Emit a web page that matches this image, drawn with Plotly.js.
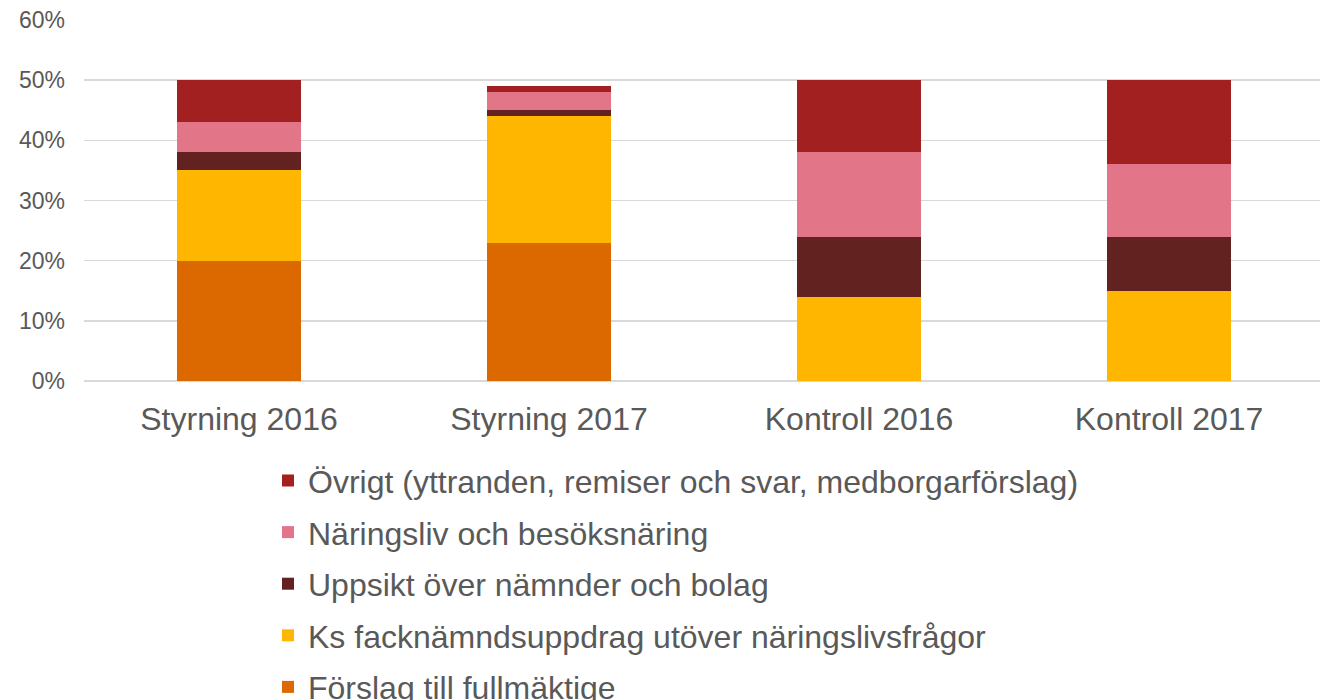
<!DOCTYPE html>
<html>
<head>
<meta charset="utf-8">
<script src="https://cdn.plot.ly/plotly-3.0.1.min.js"></script>
<style>html,body{margin:0;padding:0;background:#fff;}#chart{width:1320px;height:700px;}</style>
</head>
<body>
<div id="chart"></div>
<script>
const categories = ["Styrning 2016", "Styrning 2017", "Kontroll 2016", "Kontroll 2017"];
const forslag = [0.20, 0.23, 0.00, 0.00];
const ksFack = [0.15, 0.21, 0.14, 0.15];
const uppsikt = [0.03, 0.01, 0.10, 0.09];
const naringsliv = [0.05, 0.03, 0.14, 0.12];
const ovrigt = [0.07, 0.01, 0.12, 0.14];
const seriesNames = [
  "Förslag till fullmäktige",
  "Ks facknämndsuppdrag utöver näringslivsfrågor",
  "Uppsikt över nämnder och bolag",
  "Näringsliv och besöksnäring",
  "Övrigt (yttranden, remiser och svar, medborgarförslag)"
];
const seriesColors = ["#DB6900", "#FFB600", "#622220", "#E27588", "#A32020"];
const yTickVals = [0, 0.1, 0.2, 0.3, 0.4, 0.5, 0.6];

const seriesValues = [forslag, ksFack, uppsikt, naringsliv, ovrigt];
const traces = seriesValues.map((vals, i) => ({
  type: "bar",
  x: categories,
  y: vals,
  name: seriesNames[i],
  legendgroup: "g" + i,
  legendrank: 1000 - i,
  marker: {color: seriesColors[i], line: {width: 0}},
  width: 0.4,
  hoverinfo: "x+y+name"
}));

const layout = {
  width: 1320,
  height: 700,
  barmode: "stack",
  paper_bgcolor: "#ffffff",
  plot_bgcolor: "#ffffff",
  margin: {l: 84, r: 0, t: 20, b: 319, autoexpand: false},
  font: {family: "Liberation Sans, Arial, sans-serif", color: "#595959"},
  xaxis: {
    type: "category",
    range: [-0.5, 3.487],
    showgrid: false,
    showline: false,
    zeroline: false,
    ticks: "",
    tickfont: {size: 32, color: "#595959"},
    ticklabelstandoff: 16
  },
  yaxis: {
    range: [0, 0.6],
    tickvals: yTickVals,
    tickformat: ".0%",
    showgrid: true,
    gridcolor: "#D9D9D9",
    gridwidth: 1.5,
    zeroline: true,
    zerolinecolor: "#D9D9D9",
    zerolinewidth: 1.5,
    showline: false,
    ticks: "",
    tickfont: {size: 23, color: "#595959"},
    ticklabelstandoff: 18
  },
  showlegend: true,
  legend: {
    orientation: "v",
    traceorder: "grouped",
    x: (268 - 84) / 1236,
    xanchor: "left",
    y: -0.2,
    yanchor: "top",
    tracegroupgap: 7,
    font: {size: 32, color: "#595959"},
    bgcolor: "rgba(0,0,0,0)"
  }
};

Plotly.newPlot("chart", traces, layout, {displayModeBar: false, staticPlot: true});
</script>
</body>
</html>
